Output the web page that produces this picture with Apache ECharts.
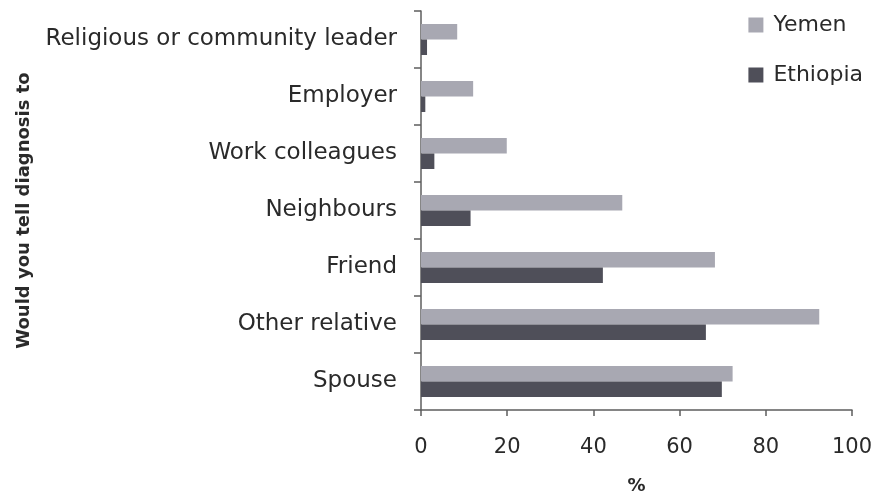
<!DOCTYPE html>
<html>
<head>
<meta charset="utf-8">
<script src="https://cdn.jsdelivr.net/npm/echarts@6/dist/echarts.min.js"></script>
<style>
html,body{margin:0;padding:0;background:#fff;}
#chart{width:876px;height:498px;}
</style>
</head>
<body>
<div id="chart"></div>
<script>
var categories = ["Religious or community leader", "Employer", "Work colleagues", "Neighbours", "Friend", "Other relative", "Spouse"];
var yemen = [8.4, 12.1, 19.9, 46.7, 68.2, 92.4, 72.3];
var ethiopia = [1.4, 1.0, 3.1, 11.5, 42.2, 66.1, 69.8];
var xTicks = [0, 20, 40, 60, 80, 100];

var font = "DejaVu Sans";
var chart = echarts.init(document.getElementById('chart'));
chart.setOption({
  animation: false,
  backgroundColor: '#ffffff',
  textStyle: { fontFamily: font },
  legend: {
    orient: 'vertical',
    right: 8,
    top: 9,
    itemWidth: 15,
    itemHeight: 15,
    itemGap: 28,
    icon: 'rect',
    textStyle: { fontSize: 22, lineHeight: 22, color: '#2a2a2a', fontFamily: font, padding: [0, 0, 0, 5] },
    data: ['Yemen', 'Ethiopia']
  },
  grid: { left: 421, right: 24, top: 11, bottom: 88, containLabel: false, outerBoundsMode: 'none' },
  xAxis: {
    type: 'value',
    min: xTicks[0],
    max: xTicks[xTicks.length - 1],
    interval: 20,
    name: '%',
    nameLocation: 'middle',
    nameGap: 67,
    nameTextStyle: { fontSize: 18, fontWeight: 'bold', color: '#2a2a2a', fontFamily: font },
    axisLine: { show: true, lineStyle: { color: '#5e5e5e', width: 1.5 } },
    axisTick: { show: true, length: 6, lineStyle: { color: '#5e5e5e', width: 1.5 } },
    axisLabel: { fontSize: 21, color: '#2a2a2a', margin: 27, fontFamily: font },
    splitLine: { show: false }
  },
  yAxis: {
    type: 'category',
    inverse: true,
    data: categories,
    name: 'Would you tell diagnosis to',
    nameLocation: 'middle',
    nameGap: 388,
    nameTextStyle: { fontSize: 18, fontWeight: 'bold', color: '#2a2a2a', fontFamily: font },
    axisLine: { show: true, lineStyle: { color: '#5e5e5e', width: 1.5 } },
    axisTick: { show: true, length: 7, lineStyle: { color: '#5e5e5e', width: 1.5 } },
    axisLabel: { fontSize: 23, color: '#2a2a2a', margin: 24, fontFamily: font }
  },
  series: [
    {
      name: 'Yemen',
      type: 'bar',
      data: yemen,
      barWidth: 15.5,
      barGap: '0%',
      itemStyle: { color: '#a8a8b2' }
    },
    {
      name: 'Ethiopia',
      type: 'bar',
      data: ethiopia,
      barWidth: 15.5,
      barGap: '0%',
      itemStyle: { color: '#4f4f59' }
    }
  ]
});
</script>
</body>
</html>
